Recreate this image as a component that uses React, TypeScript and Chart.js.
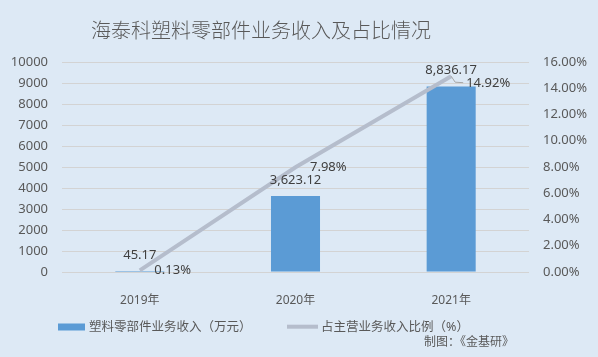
import React, { useEffect, useRef } from "react";
import { Chart, registerables } from "chart.js";

Chart.register(...registerables);

const categories = ["2019年", "2020年", "2021年"];
const revenue = [45.17, 3623.12, 8836.17];
const ratio = [0.13, 7.98, 14.92];
const revenueLabels = ["45.17", "3,623.12", "8,836.17"];
const ratioLabels = ["0.13%", "7.98%", "14.92%"];
const title = "海泰科塑料零部件业务收入及占比情况";
const legendBar = "塑料零部件业务收入（万元）";
const legendLine = "占主营业务收入比例（%）";
const footer = "制图：《金基研》";

const FONT = '"Noto Sans", "Noto Sans CJK SC", sans-serif';
const CJK = '"Noto Sans CJK SC", sans-serif';
const BG = "#dde9f5";
const BAR = "#5b9bd5";
const LINE = "#b5bdcc";
const TEXT = "#595959";
const LABEL = "#404040";

const decorPlugin = {
  id: "decor",
  afterDatasetsDraw(chart: any) {
    const ctx = chart.ctx;
    ctx.save();
    // bar labels
    const barMeta = chart.getDatasetMeta(0);
    ctx.font = `13px ${FONT}`;
    ctx.fillStyle = LABEL;
    ctx.textAlign = "center";
    ctx.textBaseline = "middle";
    barMeta.data.forEach((el: any, i: number) => {
      ctx.fillText(revenueLabels[i], el.x, el.y - 16);
    });
    // line labels
    const lineMeta = chart.getDatasetMeta(1);
    ctx.textAlign = "left";
    lineMeta.data.forEach((el: any, i: number) => {
      const last = i === lineMeta.data.length - 1;
      if (last) {
        ctx.strokeStyle = "#a6a6a6";
        ctx.lineWidth = 1;
        ctx.beginPath();
        ctx.moveTo(el.x, el.y);
        ctx.lineTo(el.x + 4, el.y + 6);
        ctx.lineTo(el.x + 12, el.y + 6.5);
        ctx.stroke();
        ctx.fillText(ratioLabels[i], el.x + 15, el.y + 7);
      } else {
        ctx.fillText(ratioLabels[i], el.x + 14.5, el.y + 0.5);
      }
    });
    ctx.restore();
  },
  afterDraw(chart: any) {
    const ctx = chart.ctx;
    ctx.save();
    ctx.textBaseline = "middle";
    // title
    ctx.font = `300 20px ${CJK}`;
    ctx.fillStyle = TEXT;
    ctx.textAlign = "center";
    ctx.fillText(title, 261, 30);
    // legend
    ctx.fillStyle = BAR;
    ctx.fillRect(58, 323.5, 27, 7);
    ctx.font = `12.5px ${FONT}`;
    ctx.fillStyle = TEXT;
    ctx.textAlign = "left";
    ctx.fillText(legendBar, 89, 327);
    ctx.strokeStyle = LINE;
    ctx.lineWidth = 4;
    ctx.beginPath();
    ctx.moveTo(287, 326.7);
    ctx.lineTo(318, 326.7);
    ctx.stroke();
    ctx.fillText(legendLine, 321, 327);
    // footer
    ctx.font = `12px ${FONT}`;
    ctx.textAlign = "right";
    ctx.fillText(footer, 514, 343);
    ctx.restore();
  },
};

export default function App() {
  const ref = useRef<HTMLCanvasElement>(null);
  useEffect(() => {
    if (!ref.current) return;
    const chart = new Chart(ref.current, {
      type: "bar",
      data: {
        labels: categories,
        datasets: [
          {
            type: "bar",
            label: legendBar,
            data: revenue,
            backgroundColor: BAR,
            yAxisID: "y",
            barPercentage: 0.63,
            categoryPercentage: 0.5,
            order: 1,
          },
          {
            type: "line",
            label: legendLine,
            data: ratio,
            borderColor: LINE,
            borderWidth: 4,
            pointRadius: 0,
            yAxisID: "y1",
            order: 0,
          } as any,
        ],
      },
      options: {
        animation: false,
        responsive: false,
        layout: { padding: { top: 62, left: 0, right: 0, bottom: 0 } },
        plugins: {
          legend: { display: false },
          title: { display: false },
          tooltip: { enabled: false },
        },
        scales: {
          x: {
            grid: { display: false },
            border: { display: false },
            ticks: { color: TEXT, font: { family: FONT, size: 12 }, padding: 13 },
            afterFit(scale: any) {
              scale.height = 85;
            },
          },
          y: {
            position: "left",
            min: 0,
            max: 10000,
            ticks: {
              stepSize: 1000,
              color: TEXT,
              font: { family: FONT, size: 13 },
              padding: 14,
              callback: (v: any) => String(v),
            },
            grid: { color: "#d3d3d3", drawTicks: false, lineWidth: 1 },
            border: { display: false },
            afterFit(scale: any) {
              scale.width = 62;
            },
          },
          y1: {
            position: "right",
            min: 0,
            max: 16,
            ticks: {
              stepSize: 2,
              color: TEXT,
              font: { family: FONT, size: 13 },
              padding: 14,
              callback: (v: any) => Number(v).toFixed(2) + "%",
            },
            grid: { display: false, drawTicks: false },
            border: { display: false },
            afterFit(scale: any) {
              scale.width = 69;
            },
          },
        },
      },
      plugins: [decorPlugin],
    });
    return () => chart.destroy();
  }, []);
  return (
    <div style={{ position: "fixed", left: 0, top: 0, width: 598, height: 357, background: BG }}>
      <canvas ref={ref} width={598} height={357} style={{ width: 598, height: 357, display: "block" }} />
    </div>
  );
}
